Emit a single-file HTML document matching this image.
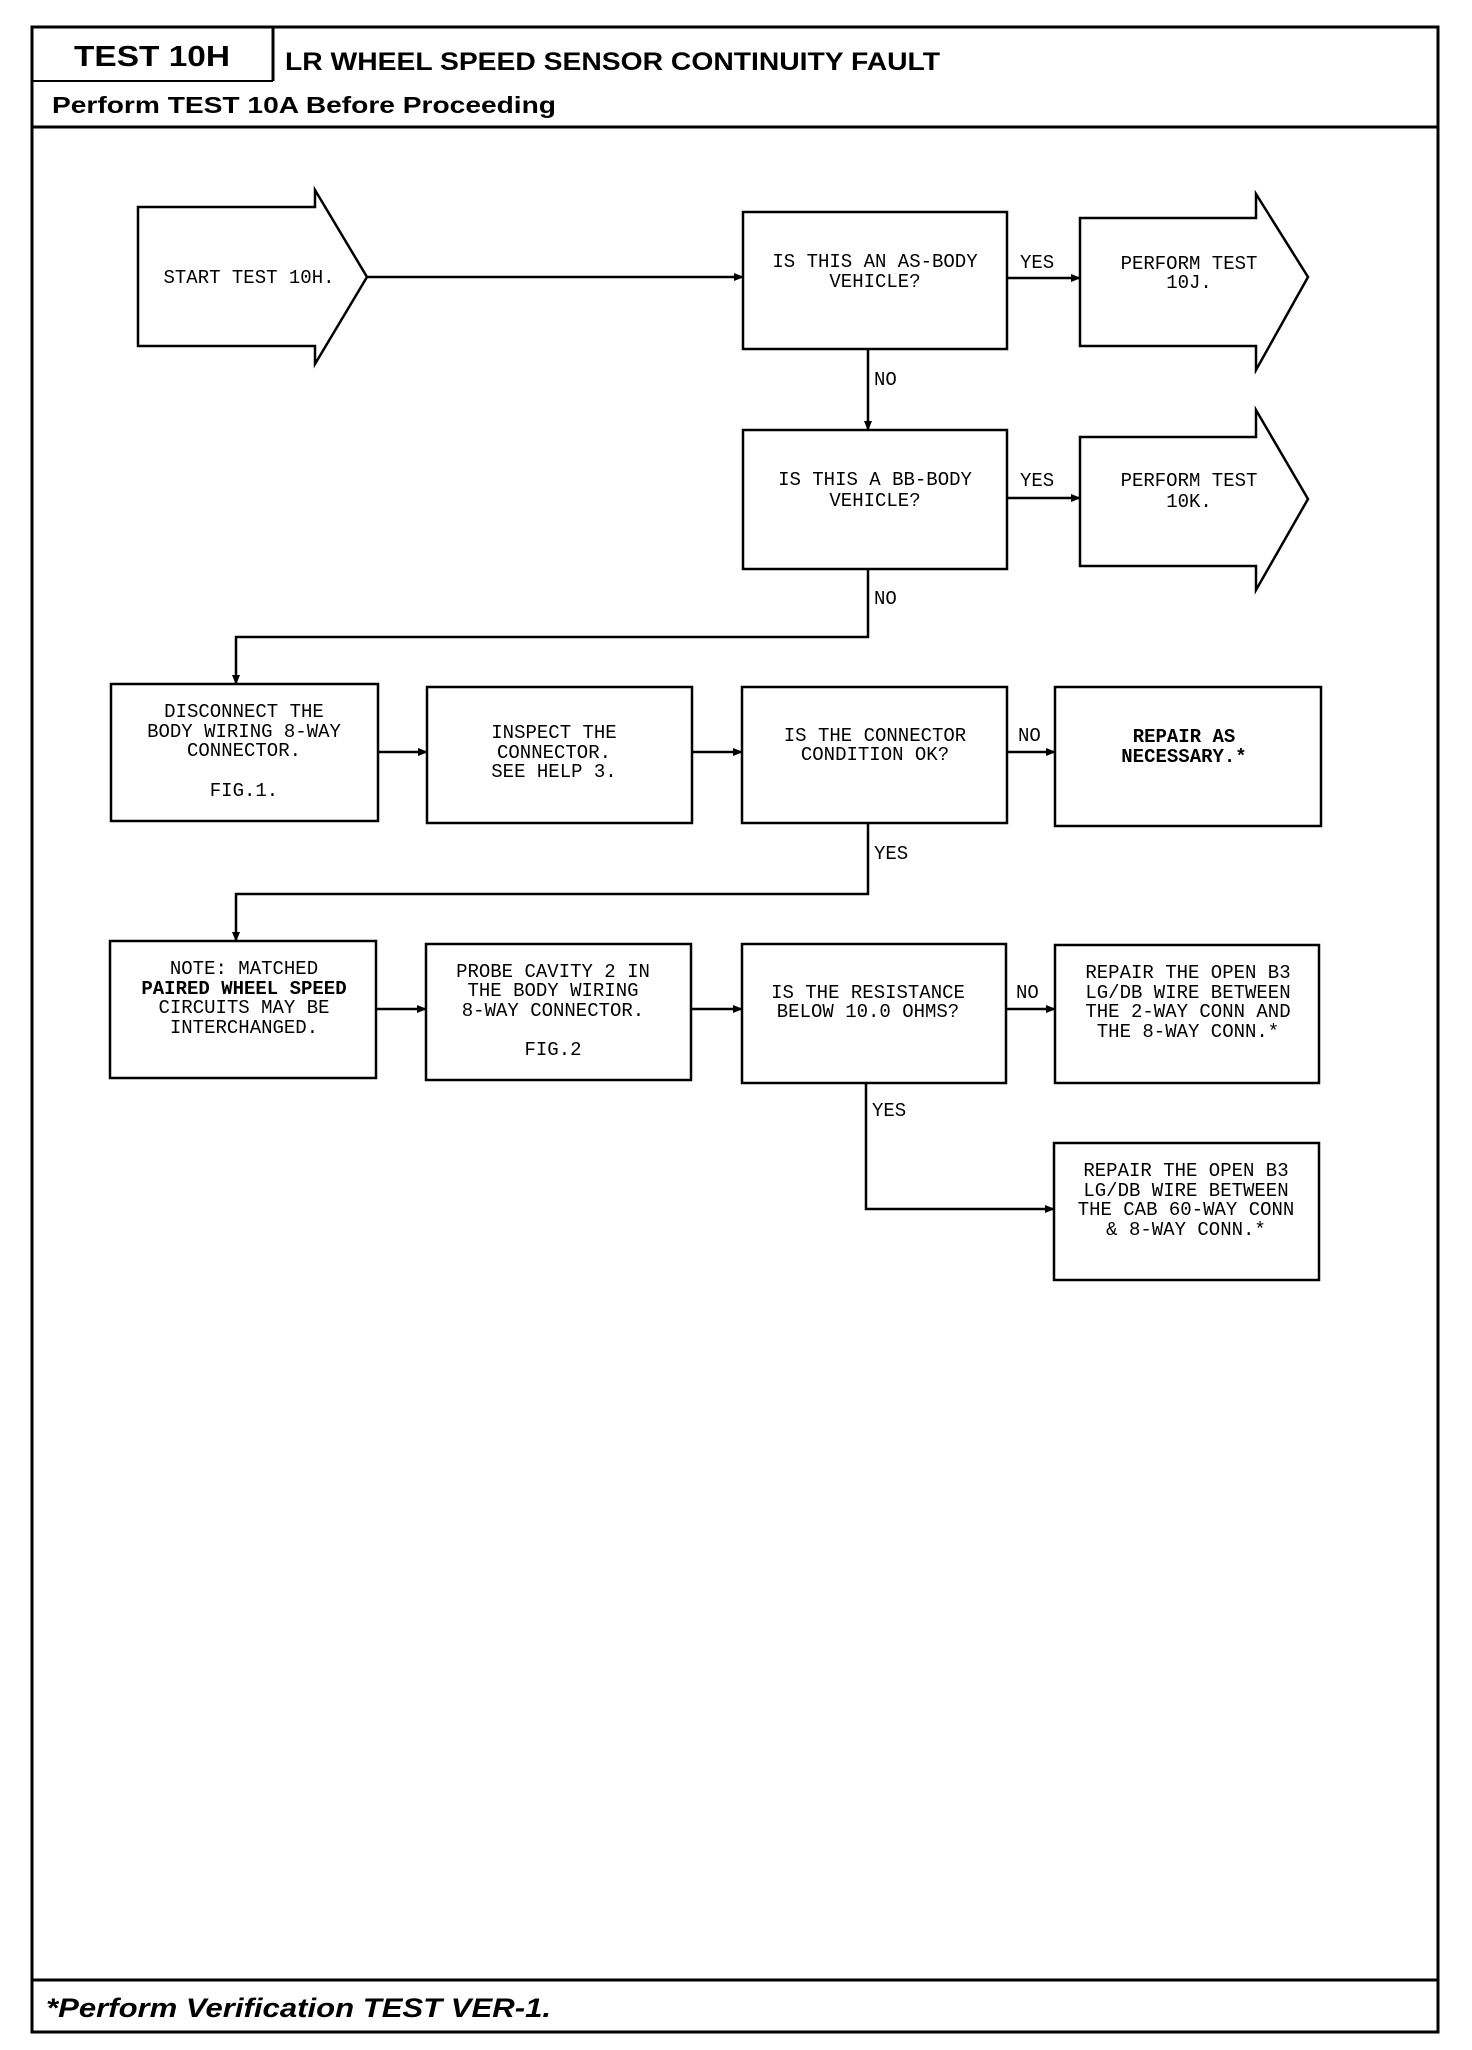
<!DOCTYPE html>
<html><head><meta charset="utf-8"><style>
html,body{margin:0;padding:0;background:#fff;}
svg{display:block;}
.m{font-family:"Liberation Mono",monospace;font-size:19px;fill:#000;text-anchor:middle;}
.l{font-family:"Liberation Mono",monospace;font-size:19px;fill:#000;}
.h{font-family:"Liberation Sans",sans-serif;font-weight:bold;fill:#000;}
</style></head><body>
<svg width="1472" height="2050" viewBox="0 0 1472 2050" xmlns="http://www.w3.org/2000/svg">
<defs><marker id="a" markerWidth="10" markerHeight="8" refX="9" refY="4" orient="auto" markerUnits="userSpaceOnUse"><path d="M0,0 L10,4 L0,8 z" fill="#000"/></marker></defs>
<g fill="none" stroke="#000" stroke-width="3">
<rect x="32" y="27" width="1406" height="2005"/>
<line x1="273" y1="27" x2="273" y2="81"/>
<line x1="32" y1="81" x2="273" y2="81" stroke-width="2"/>
<line x1="32" y1="127" x2="1438" y2="127"/>
<line x1="32" y1="1980" x2="1438" y2="1980"/>
</g>
<text class="h" x="74" y="66" font-size="29" textLength="156" lengthAdjust="spacingAndGlyphs">TEST 10H</text>
<text class="h" x="285" y="70" font-size="25" textLength="655" lengthAdjust="spacingAndGlyphs">LR WHEEL SPEED SENSOR CONTINUITY FAULT</text>
<text class="h" x="52" y="113" font-size="23" textLength="504" lengthAdjust="spacingAndGlyphs">Perform TEST 10A Before Proceeding</text>
<text class="h" x="46" y="2017" font-size="27" font-style="italic" textLength="505" lengthAdjust="spacingAndGlyphs">*Perform Verification TEST VER-1.</text>

<g fill="none" stroke="#000" stroke-width="2.5">
<path d="M138,207 H315 V190 L367,277 L315,364 V346 H138 Z"/>
<path d="M1080,218 H1256 V194 L1308,277 L1256,370 V346 H1080 Z"/>
<path d="M1080,437 H1256 V410 L1308,499 L1256,590 V566 H1080 Z"/>
<rect x="743" y="212" width="264" height="137"/>
<rect x="743" y="430" width="264" height="139"/>
<rect x="111" y="684" width="267" height="137"/>
<rect x="427" y="687" width="265" height="136"/>
<rect x="742" y="687" width="265" height="136"/>
<rect x="1055" y="687" width="266" height="139"/>
<rect x="110" y="941" width="266" height="137"/>
<rect x="426" y="944" width="265" height="136"/>
<rect x="742" y="944" width="264" height="139"/>
<rect x="1055" y="945" width="264" height="138"/>
<rect x="1054" y="1143" width="265" height="137"/>
</g>
<g fill="none" stroke="#000" stroke-width="2.5" marker-end="url(#a)">
<line x1="367" y1="277" x2="743" y2="277"/>
<line x1="1007" y1="278" x2="1080" y2="278"/>
<line x1="868" y1="349" x2="868" y2="430"/>
<line x1="1007" y1="498" x2="1080" y2="498"/>
<polyline points="868,569 868,637 236,637 236,684"/>
<line x1="378" y1="752" x2="427" y2="752"/>
<line x1="692" y1="752" x2="742" y2="752"/>
<line x1="1007" y1="752" x2="1055" y2="752"/>
<polyline points="868,823 868,894 236,894 236,941"/>
<line x1="376" y1="1009" x2="426" y2="1009"/>
<line x1="691" y1="1009" x2="742" y2="1009"/>
<line x1="1006" y1="1009" x2="1055" y2="1009"/>
<polyline points="866,1083 866,1209 1054,1209"/>
</g>
<text class="l" x="1020" y="268">YES</text>
<text class="l" x="874" y="385">NO</text>
<text class="l" x="1020" y="486">YES</text>
<text class="l" x="874" y="604">NO</text>
<text class="l" x="1018" y="741">NO</text>
<text class="l" x="874" y="859">YES</text>
<text class="l" x="1016" y="998">NO</text>
<text class="l" x="872" y="1116">YES</text>

<text class="m" x="249" y="283">START TEST 10H.</text>
<text class="m" x="875" y="267">IS THIS AN AS-BODY</text>
<text class="m" x="875" y="287">VEHICLE?</text>
<text class="m" x="1189" y="269">PERFORM TEST</text>
<text class="m" x="1189" y="288">10J.</text>
<text class="m" x="875" y="485">IS THIS A BB-BODY</text>
<text class="m" x="875" y="506">VEHICLE?</text>
<text class="m" x="1189" y="486">PERFORM TEST</text>
<text class="m" x="1189" y="507">10K.</text>

<text class="m" x="244" y="717">DISCONNECT THE</text>
<text class="m" x="244" y="737">BODY WIRING 8-WAY</text>
<text class="m" x="244" y="756">CONNECTOR.</text>
<text class="m" x="244" y="796">FIG.1.</text>
<text class="m" x="554" y="738">INSPECT THE</text>
<text class="m" x="554" y="758">CONNECTOR.</text>
<text class="m" x="554" y="777">SEE HELP 3.</text>
<text class="m" x="875" y="741">IS THE CONNECTOR</text>
<text class="m" x="875" y="760">CONDITION OK?</text>
<text class="m" x="1184" y="742" font-weight="bold">REPAIR AS</text>
<text class="m" x="1184" y="762" font-weight="bold">NECESSARY.*</text>

<text class="m" x="244" y="974">NOTE:  MATCHED</text>
<text class="m" x="244" y="994" font-weight="bold">PAIRED WHEEL SPEED</text>
<text class="m" x="244" y="1013">CIRCUITS MAY BE</text>
<text class="m" x="244" y="1033">INTERCHANGED.</text>
<text class="m" x="553" y="977">PROBE CAVITY 2 IN</text>
<text class="m" x="553" y="996">THE BODY WIRING</text>
<text class="m" x="553" y="1016">8-WAY CONNECTOR.</text>
<text class="m" x="553" y="1055">FIG.2</text>
<text class="m" x="868" y="998">IS THE RESISTANCE</text>
<text class="m" x="868" y="1017">BELOW 10.0 OHMS?</text>
<text class="m" x="1188" y="978">REPAIR THE OPEN B3</text>
<text class="m" x="1188" y="998">LG/DB WIRE BETWEEN</text>
<text class="m" x="1188" y="1017">THE 2-WAY CONN AND</text>
<text class="m" x="1188" y="1037">THE 8-WAY CONN.*</text>
<text class="m" x="1186" y="1176">REPAIR THE OPEN B3</text>
<text class="m" x="1186" y="1196">LG/DB WIRE BETWEEN</text>
<text class="m" x="1186" y="1215">THE CAB 60-WAY CONN</text>
<text class="m" x="1186" y="1235">&amp; 8-WAY CONN.*</text>
</svg>
</body></html>
